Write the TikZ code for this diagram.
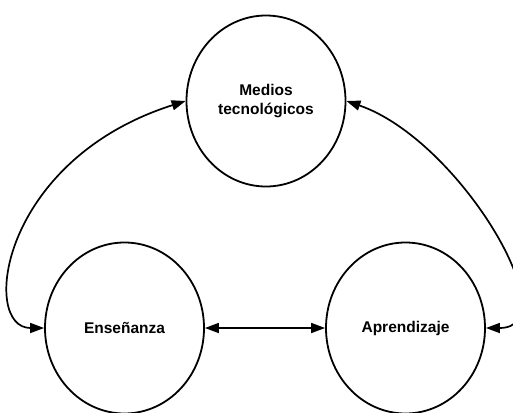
\documentclass[tikz,border=0pt]{standalone}
\usepackage{fontspec}
\setmainfont{Liberation Sans}
\usetikzlibrary{shapes.geometric,arrows.meta}

\begin{document}
\begin{tikzpicture}[x=1pt, y=-1pt,
		concept/.style={ellipse, draw, line width=1.8pt, minimum width=159pt, minimum height=171pt,
			align=center, font=\fontsize{15.5}{19}\selectfont\bfseries, inner sep=0pt},
		link/.style={line width=1.7pt, {Triangle[length=14pt,width=10pt]}-{Triangle[length=14pt,width=10pt]}}]
	\useasboundingbox (0,0) rectangle (513,412);

	\node[concept] (M) at (266, 101) {Medios\\tecnológicos};
	\node[concept] (E) at (124.5, 328) {Enseñanza};
	\node[concept] (A) at (405.5, 328) {Aprendizaje};

	% flechas
	\draw[link] (E.west) .. controls (-20, 328) and (0, 160) .. (M.west);
	\draw[link] (A.east) .. controls (570, 328) and (460, 140) .. (M.east);
	\draw[link] (E) -- (A);
\end{tikzpicture}
\end{document}
